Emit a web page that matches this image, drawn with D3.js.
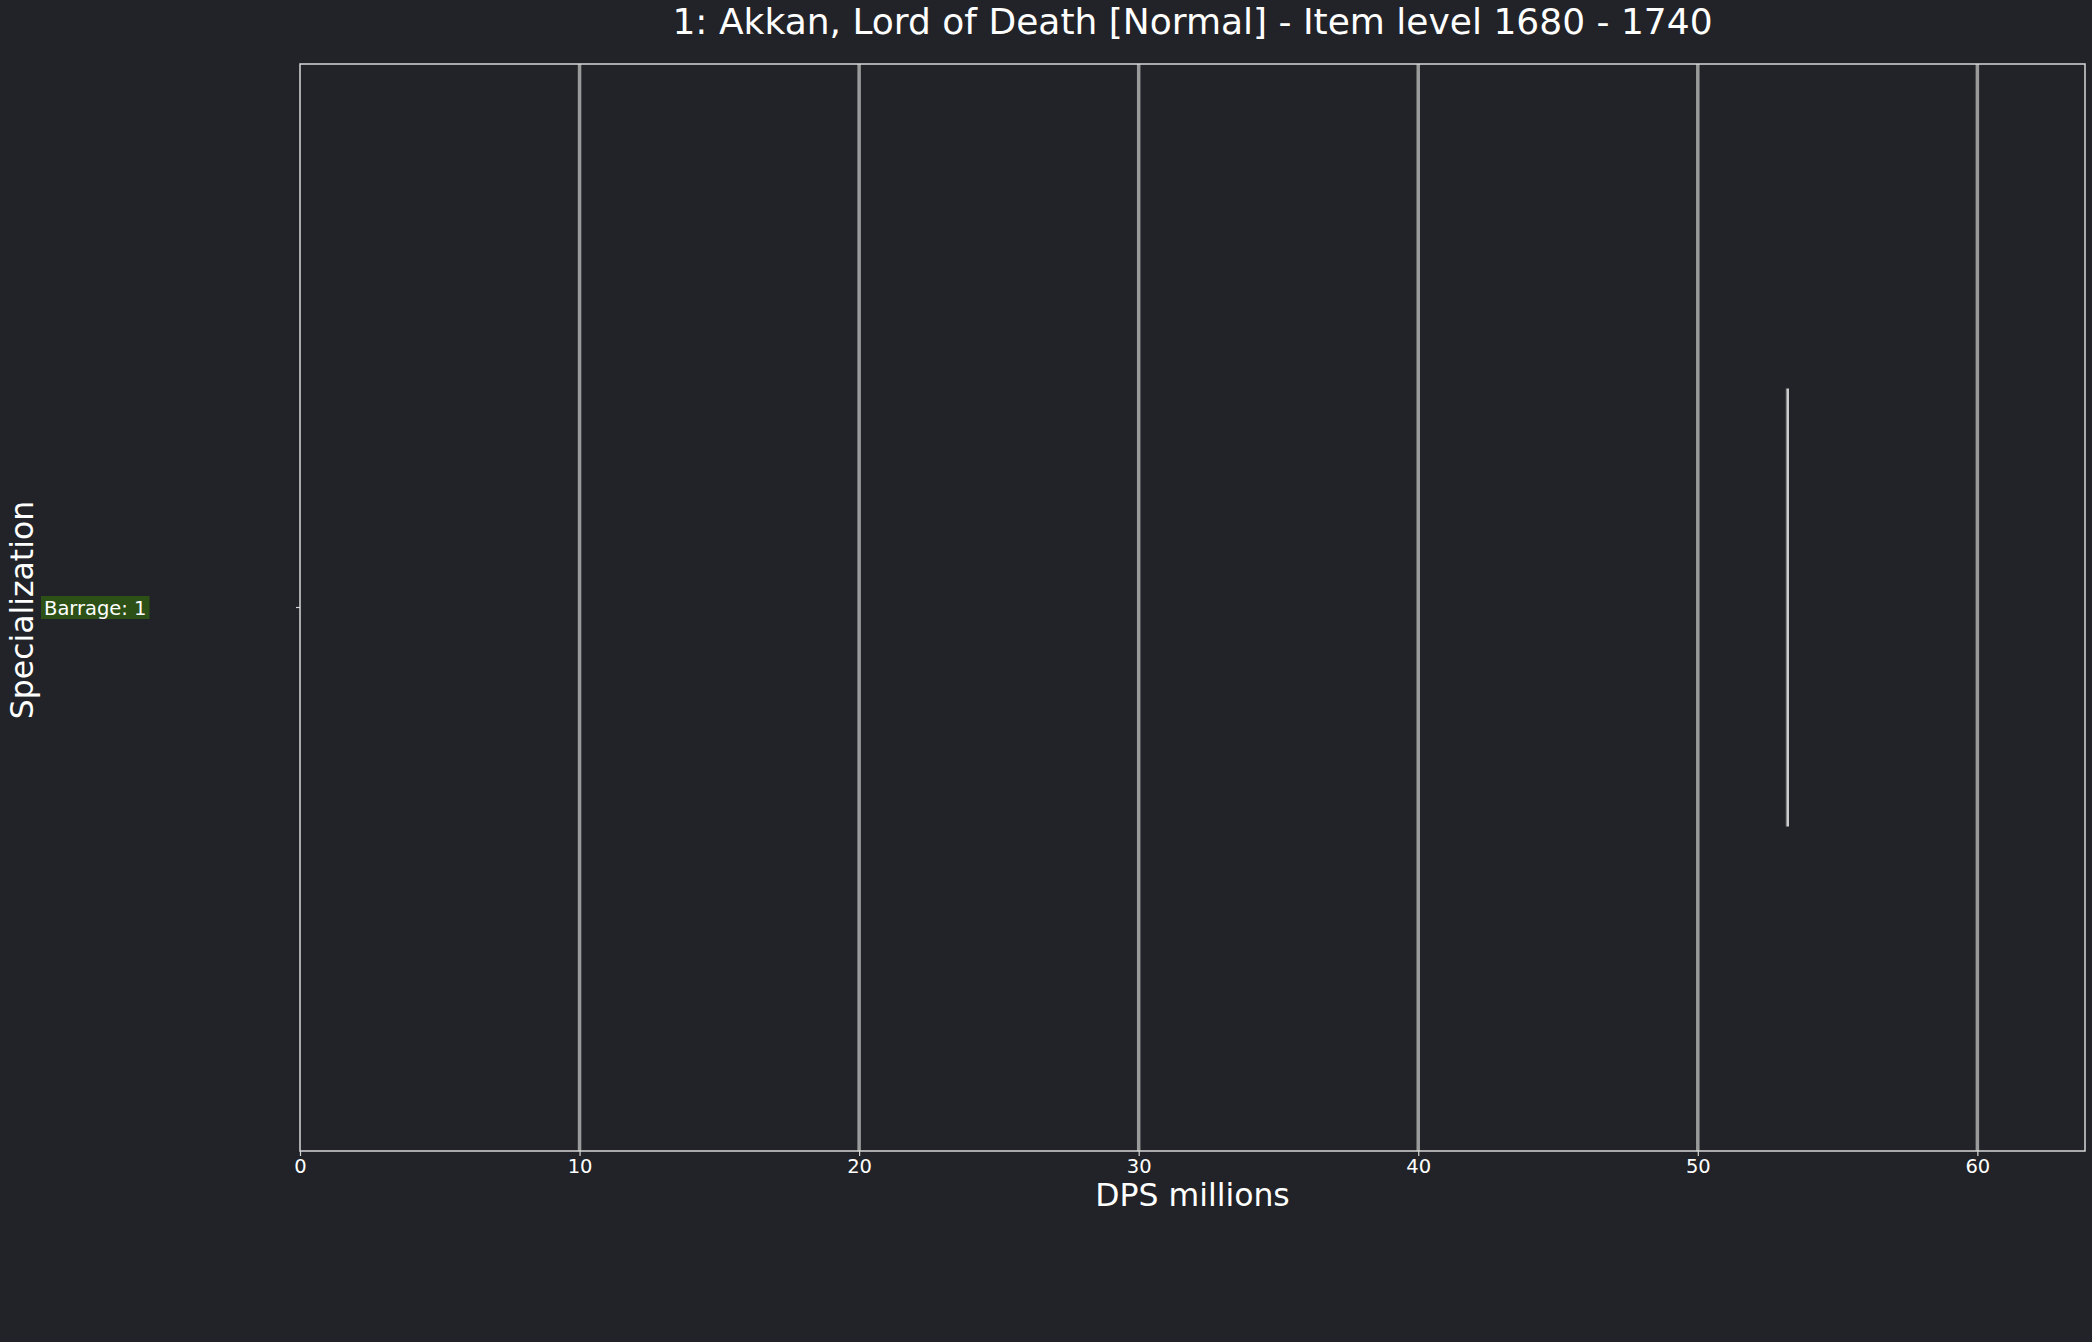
<!DOCTYPE html>
<html>
<head>
<meta charset="utf-8">
<script src="https://cdn.jsdelivr.net/npm/d3@7"></script>
<style>
  html, body { margin: 0; padding: 0; background: #212328; }
  svg { display: block; }
  text { font-family: "DejaVu Sans", sans-serif; }
</style>
</head>
<body>
<svg id="chart" width="2092" height="1342"></svg>
<script>
// ---- data ----
const title = "1: Akkan, Lord of Death [Normal] - Item level 1680 - 1740";
const categories = ["Barrage"];
const counts = [1];
const dpsMin = [53.2];
const dpsQ1 = [53.2];
const dpsMedian = [53.2];
const dpsQ3 = [53.2];
const dpsMax = [53.2];
const xTicks = [0, 10, 20, 30, 40, 50, 60];
const xDomain = [0, 63.85];
const xLabel = "DPS millions";
const yLabel = "Specialization";

// ---- layout ----
const W = 2092, H = 1342;
const m = { left: 300, right: 2085, top: 64, bottom: 1151 };
const bg = "#212328";

const svg = d3.select("#chart");
svg.append("rect").attr("width", W).attr("height", H).attr("fill", bg);

const x = d3.scaleLinear().domain(xDomain).range([m.left, m.right]);
const y = d3.scaleBand().domain(categories).range([m.top, m.bottom]).paddingInner(0).paddingOuter(0);
const boxFrac = 0.403;

// grid (the line at the domain start is hidden under the spine)
svg.append("g").selectAll("line").data(xTicks.filter(d => d > xDomain[0])).join("line")
  .attr("x1", d => x(d)).attr("x2", d => x(d))
  .attr("y1", m.top).attr("y2", m.bottom)
  .attr("stroke", "#9a9a9a").attr("stroke-width", 3.5);

// boxes
const rows = categories.map((c, i) => ({
  cat: c, n: counts[i], min: dpsMin[i], q1: dpsQ1[i], med: dpsMedian[i], q3: dpsQ3[i], max: dpsMax[i]
}));
const g = svg.append("g");
rows.forEach(r => {
  const cy = y(r.cat) + y.bandwidth() / 2;
  const bh = y.bandwidth() * boxFrac;
  g.append("line").attr("x1", x(r.min)).attr("x2", x(r.q1)).attr("y1", cy).attr("y2", cy)
    .attr("stroke", "#9a9a9a").attr("stroke-width", 1.5);
  g.append("line").attr("x1", x(r.q3)).attr("x2", x(r.max)).attr("y1", cy).attr("y2", cy)
    .attr("stroke", "#9a9a9a").attr("stroke-width", 1.5);
  g.append("rect").attr("x", x(r.q1) - 1.5).attr("y", cy - bh / 2)
    .attr("width", Math.max(x(r.q3) - x(r.q1), 0) + 1.5).attr("height", bh)
    .attr("fill", "#8a8a8a").attr("stroke", "none");
  g.append("line").attr("x1", x(r.med) + 0.75).attr("x2", x(r.med) + 0.75)
    .attr("y1", cy - bh / 2).attr("y2", cy + bh / 2)
    .attr("stroke", "#ffffff").attr("stroke-width", 1.5);
});

// spines
svg.append("rect").attr("x", m.left).attr("y", m.top)
  .attr("width", m.right - m.left).attr("height", m.bottom - m.top)
  .attr("fill", "none").attr("stroke", "#d8d8d8").attr("stroke-width", 1.5);

// x axis
const xAxis = d3.axisBottom(x).tickValues(xTicks).tickSize(5).tickPadding(3).tickFormat(d3.format("d"));
const xg = svg.append("g").attr("transform", `translate(0,${m.bottom})`).call(xAxis)
  .attr("font-size", null).attr("font-family", null);
xg.select(".domain").remove();
xg.selectAll(".tick line").attr("stroke", "#d8d8d8").attr("stroke-width", 1.2);
xg.selectAll(".tick text").attr("fill", "#ffffff").style("font-size", "19.5px")
  .style("font-family", "DejaVu Sans").attr("dy", "0.71em");

// y axis ticks (labels drawn as badges)
const yAxis = d3.axisLeft(y).tickSize(4).tickFormat("");
const yg = svg.append("g").attr("transform", `translate(${m.left},0)`).call(yAxis);
yg.select(".domain").remove();
yg.selectAll(".tick line").attr("stroke", "#d8d8d8").attr("stroke-width", 1.2);

// category badges
rows.forEach(r => {
  const cy = y(r.cat) + y.bandwidth() / 2;
  const t = svg.append("text").attr("x", 44).attr("y", cy).attr("dy", "0.36em")
    .style("font-size", "19.5px").attr("fill", "#ffffff").text(`${r.cat}: ${r.n}`);
  const bb = t.node().getBBox();
  svg.insert("rect", () => t.node())
    .attr("x", 41).attr("y", cy - 11.5).attr("width", bb.width + 6).attr("height", 23)
    .attr("fill", "#2d5016");
});

// labels
svg.append("text").attr("x", (m.left + m.right) / 2).attr("y", 34)
  .attr("text-anchor", "middle").style("font-size", "36px").attr("fill", "#ffffff").text(title);
svg.append("text").attr("x", (m.left + m.right) / 2).attr("y", 1206)
  .attr("text-anchor", "middle").style("font-size", "31.5px").attr("fill", "#ffffff").text(xLabel);
svg.append("text").attr("transform", `translate(33,610) rotate(-90)`)
  .attr("text-anchor", "middle").style("font-size", "31.5px").attr("fill", "#ffffff").text(yLabel);
</script>
</body>
</html>
